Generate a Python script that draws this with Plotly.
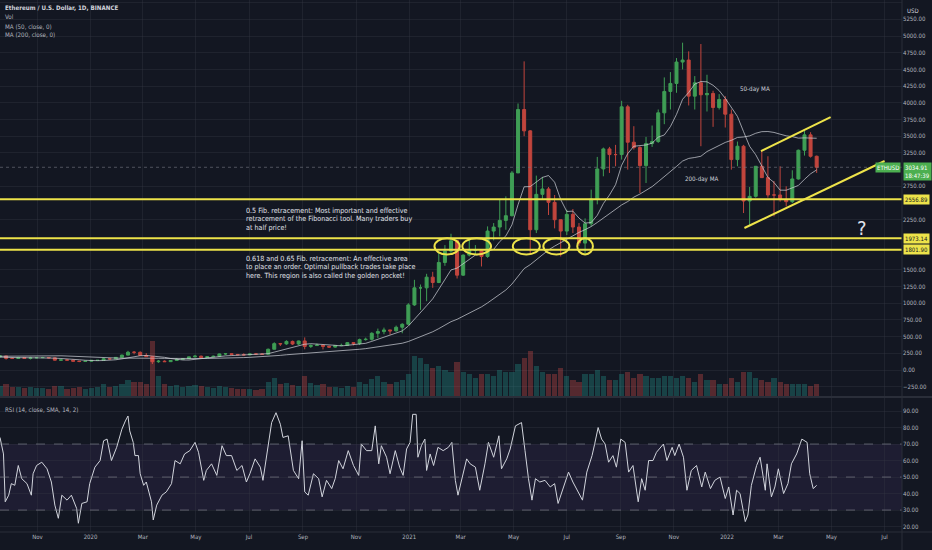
import plotly.graph_objects as go
import pandas as pd

# ============================================
# DATA  (weekly candles)
# ============================================
first_week = "2019-09-19"

opens = [
    197, 211, 174, 172, 186, 173, 183, 185, 187, 182, 147, 151, 148, 132, 128, 132,
    144, 145, 168, 167, 189, 223, 266, 265, 218, 200, 124, 132, 125, 143, 158, 170,
    197, 207, 187, 199, 205, 241, 244, 233, 228, 227, 240, 239, 236, 311, 395, 391,
    428, 389, 435, 353, 366, 372, 355, 343, 366, 368, 410, 395, 455, 460, 550, 575,
    600, 586, 640, 685,
    975, 1230, 1230, 1390, 1310, 1610, 1780, 1935, 1420, 1720, 1790, 1790, 1700, 2080,
    2140, 2240, 2310, 2950, 3900, 3580, 2100, 2630, 2710, 2510, 2250, 2080, 2330, 2140,
    1900, 2190, 2560, 3010, 3310, 3225, 3225, 3940, 3410, 3330, 3060, 3390, 3420, 3850,
    4170, 4290, 4610, 4640, 4100, 4300, 4120, 4140, 3930, 4050,
    3830, 3150, 3350, 2530, 2600, 3050, 2880, 2620, 2620, 2550, 2520, 2860, 3290, 3520,
    3200,
]
highs = [
    223, 212, 182, 197, 190, 197, 192, 197, 190, 184, 157, 153, 152, 135, 135, 145,
    148, 180, 172, 189, 230, 287, 285, 278, 252, 202, 150, 145, 150, 175, 175, 198,
    227, 216, 208, 216, 246, 253, 250, 240, 250, 245, 248, 243, 321, 415, 405, 445,
    440, 440, 488, 385, 395, 380, 363, 370, 395, 418, 415, 470, 485, 565, 620, 635,
    602, 665, 700, 1000,
    1350, 1280, 1440, 1470, 1760, 1870, 2040, 1940, 1730, 1950, 1870, 1810, 2150, 2200,
    2550, 2600, 2980, 3990, 4620, 3590, 2910, 2890, 2740, 2620, 2250, 2400, 2410, 2200,
    2270, 2700, 3190, 3330, 3340, 3370, 4030, 3970, 3650, 3350, 3490, 3660, 3900, 4380,
    4460, 4670, 4900, 4770, 4400, 4880, 4420, 4180, 4130, 4100,
    3900, 3420, 3370, 2740, 3050, 3280, 3200, 2830, 3050, 2750, 2990, 3300, 3580, 3560,
    3210,
]
lows = [
    193, 155, 166, 170, 171, 158, 176, 180, 178, 142, 138, 145, 131, 117, 123, 126,
    135, 142, 157, 165, 186, 219, 235, 214, 196, 90, 108, 122, 124, 140, 150, 168,
    189, 180, 183, 196, 197, 225, 220, 224, 219, 222, 236, 230, 233, 308, 360, 377,
    375, 375, 310, 330, 360, 308, 330, 335, 360, 362, 370, 375, 440, 440, 480, 535,
    530, 575, 550, 680,
    960, 900, 1030, 1230, 1300, 1560, 1740, 1370, 1410, 1700, 1730, 1550, 1680, 1940,
    2000, 2100, 2300, 2950, 3500, 1730, 2050, 2550, 2320, 2120, 1700, 2020, 2050, 1860,
    1720, 2150, 2480, 2900, 2950, 3050, 3150, 3000, 3300, 2650, 2800, 3340, 3400, 3680,
    3900, 4150, 4500, 3960, 3900, 3350, 3870, 3640, 3900, 3630,
    3000, 3050, 2350, 2160, 2580, 2880, 2580, 2300, 2520, 2450, 2500, 2850, 3210, 3180,
    2950,
]
closes = [
    211, 174, 172, 186, 173, 183, 185, 187, 182, 147, 151, 148, 132, 128, 132, 144,
    145, 168, 167, 189, 223, 266, 265, 218, 200, 124, 132, 125, 143, 158, 170, 197,
    207, 187, 199, 205, 241, 244, 233, 228, 227, 240, 239, 236, 311, 395, 391, 428,
    389, 435, 353, 366, 372, 355, 343, 366, 368, 410, 395, 455, 460, 550, 575, 600,
    586, 640, 685, 975,
    1230, 1230, 1390, 1310, 1610, 1780, 1935, 1420, 1720, 1790, 1790, 1700, 2080, 2140,
    2240, 2310, 2950, 3900, 3580, 2100, 2630, 2710, 2510, 2250, 2080, 2330, 2140, 1900,
    2190, 2560, 3010, 3310, 3225, 3225, 3940, 3410, 3330, 3060, 3390, 3420, 3850, 4170,
    4290, 4610, 4640, 4100, 4300, 4120, 4140, 3930, 4050, 3830,
    3150, 3350, 2530, 2600, 3050, 2880, 2620, 2620, 2550, 2520, 2860, 3290, 3520, 3200,
    3035,
]
volume = [
    100, 120, 90, 90, 80, 90, 80, 80, 70, 100, 100, 70, 80, 90, 70, 80,
    90, 120, 90, 100, 120, 160, 140, 140, 120, 550, 200, 120, 100,
    110, 90, 100, 110, 100, 90, 80, 100, 90, 80, 70, 70, 70, 60, 70,
    140, 180, 120, 130, 110, 100, 200, 130, 110, 120, 90, 90, 80, 100, 90,
    140, 120, 170, 200, 140, 120, 140, 160, 220,
    400, 380, 320, 280, 300, 260, 240, 340, 240, 220, 180, 220, 220, 200, 260, 240, 240,
    320, 380, 450, 300, 240, 220, 220, 280, 200, 160, 140, 220,
    220, 260, 200, 160, 160, 220, 240, 180, 220, 200, 180, 180, 200, 200,
    180, 200, 180, 140, 220, 160, 160, 120, 120,
    180, 140, 240, 240, 180, 160, 140, 180, 140, 120, 120, 120, 120, 100, 120,
]
# weekly closes before the visible window (feed the moving averages)
pre_closes = [134, 137, 136, 141, 165, 164, 172, 156, 162, 187, 245, 251, 267, 245,
              265, 294, 292, 288, 275, 226, 207, 222, 211, 195, 190, 172, 178, 197]

# RSI (14): day offset from first_week, value
rsi_day = [
    0, 4, 6, 10, 13, 17, 21, 25, 31, 36, 38, 42, 48, 54, 59, 63, 67, 71, 77, 82,
    88, 90, 94, 100, 103, 109, 115, 119, 123, 128, 134, 140, 144, 147, 149, 153, 155, 159, 161, 165,
    168, 172, 174, 176, 180, 186, 191, 197, 201, 207, 212, 218, 224, 228, 234, 237, 243, 249, 255, 260,
    266, 272, 278, 283, 287, 293, 299, 302, 308, 312, 317, 322, 325, 331, 337, 343, 347, 350, 354, 360,
    366, 370, 375, 381, 385, 389, 394, 400, 406, 412, 415, 421, 427, 431, 435, 438, 444, 448, 454, 459,
    463, 467, 471, 474, 478, 480, 484, 488, 490, 494, 498, 503, 509, 515, 519, 523, 526, 530, 536, 540,
    546, 551, 557, 561, 567, 573, 576, 582, 586, 592, 595, 599, 603, 607, 611, 615, 620, 626, 632, 637,
    641, 647, 653, 658, 664, 669, 674, 680, 683, 687, 691, 695, 699, 704, 708, 713, 718, 722, 727, 733,
    737, 741, 745, 750, 754, 762, 766, 772, 775, 780, 785, 789, 794, 800, 806, 810, 816, 821, 827, 833,
    837, 842, 846, 850, 856, 859, 863, 869, 873, 879, 881, 886, 890, 894, 900, 905, 909, 915, 921, 927,
    930, 934, 938,
]
rsi_val = [
    74, 64, 35, 39, 46, 45, 57, 49, 46, 39, 52, 57, 59, 55, 47, 33, 25, 39, 36, 39,
    31, 22, 34, 35, 46, 56, 60, 72, 73, 60, 68, 79, 84, 87, 78, 71, 63, 63, 52, 45,
    47, 39, 35, 24, 33, 39, 41, 46, 60, 58, 64, 66, 71, 65, 48, 54, 58, 51, 69, 63,
    63, 54, 57, 47, 52, 61, 56, 48, 70, 83, 89, 82, 74, 75, 54, 49, 72, 41, 39, 52,
    49, 38, 48, 43, 49, 60, 55, 66, 57, 51, 70, 66, 66, 81, 58, 69, 62, 52, 66, 56,
    51, 67, 71, 88, 88, 62, 69, 73, 54, 64, 57, 68, 66, 68, 71, 48, 39, 48, 61, 58,
    56, 42, 58, 71, 62, 75, 55, 61, 67, 81, 82, 83, 66, 49, 36, 49, 47, 48, 44, 46,
    34, 44, 53, 47, 41, 36, 53, 63, 70, 80, 73, 70, 59, 63, 56, 73, 71, 53, 57, 35,
    49, 42, 60, 60, 65, 70, 60, 68, 63, 70, 62, 42, 54, 57, 44, 53, 43, 48, 50, 37,
    44, 27, 42, 40, 23, 27, 45, 57, 62, 42, 58, 38, 44, 55, 40, 46, 58, 64, 73, 71,
    52, 43, 45,
]

fib_levels = [2556.89, 1973.14, 1801.90]
last_price = 3034.91
# rising channel drawn on the chart (date, price)
channel_upper = [("2022-02-09", 3278), ("2022-04-30", 3787)]
channel_lower = [("2022-01-21", 2126), ("2022-07-01", 3129)]
# highlighted touches of the golden pocket
touch_spans = [("2021-01-30", "2021-02-28"), ("2021-03-03", "2021-04-05"),
               ("2021-04-30", "2021-05-31"), ("2021-06-04", "2021-07-04"),
               ("2021-07-13", "2021-07-31")]
touch_low, touch_high = 1731, 1971

month_ticks = ["2019-11-01", "2020-01-01", "2020-03-01", "2020-05-01", "2020-07-01",
               "2020-09-01", "2020-11-01", "2021-01-01", "2021-03-01", "2021-05-01",
               "2021-07-01", "2021-09-01", "2021-11-01", "2022-01-01", "2022-03-01",
               "2022-05-01", "2022-07-01"]
month_labels = ["Nov", "2020", "Mar", "May", "Jul", "Sep", "Nov", "2021", "Mar",
                "May", "Jul", "Sep", "Nov", "2022", "Mar", "May", "Jul"]
# price ticks; the ones under the coloured price tags are not shown
price_ticks = [-250, 0, 250, 500, 750, 1000, 1250, 1500, 2250, 2750, 3250, 3500,
               3750, 4000, 4250, 4500, 4750, 5000, 5250, 5500]
rsi_ticks = [20, 30, 40, 50, 60, 70, 80, 90]

# ============================================
# DERIVED
# ============================================
dates = pd.date_range(first_week, periods=len(closes), freq="7D")
all_closes = pd.Series(pre_closes + closes, dtype=float)
n_pre = len(pre_closes)
ma50 = all_closes.rolling(7).mean().iloc[n_pre:].values    # 7 weeks ~ 50 days
ma200 = all_closes.rolling(29).mean().iloc[n_pre:].values  # 29 weeks ~ 200 days
rsi_dates = pd.Timestamp(first_week) + pd.to_timedelta(rsi_day, unit="D")

BG = "#131722"
GRID = "rgba(54,58,69,0.35)"
UP = "#3f9e55"
DOWN = "#c1453d"
YEL = "#ede34a"
TXT = "#b2b5be"
FONT = "DejaVu Sans Condensed, Liberation Sans Narrow, Arial Narrow, sans-serif"

vol_colors = ["rgba(38,166,154,0.3)" if c >= o else "rgba(239,83,80,0.3)"
              for o, c in zip(opens, closes)]

# pixel helpers for the free text (plot area 902 x 532)
W, H = 902, 532
def px(x):
    return x / W
def py(y):
    return 1 - y / H

# ============================================
# FIGURE
# ============================================
fig = go.Figure()

fig.add_trace(go.Bar(
    x=dates, y=volume, xaxis="x", yaxis="y3",
    width=6 * 86400000, marker=dict(color=vol_colors, line=dict(width=0)),
    hoverinfo="skip"
))
fig.add_trace(go.Candlestick(
    x=dates, open=opens, high=highs, low=lows, close=closes,
    xaxis="x", yaxis="y", whiskerwidth=0,
    increasing=dict(line=dict(color=UP, width=1), fillcolor=UP),
    decreasing=dict(line=dict(color=DOWN, width=1), fillcolor=DOWN),
))
for ma in (ma50, ma200):
    fig.add_trace(go.Scatter(
        x=dates, y=ma, mode="lines", xaxis="x", yaxis="y",
        line=dict(color="rgba(209,212,220,0.7)", width=1), hoverinfo="skip"
    ))
fig.add_trace(go.Scatter(
    x=rsi_dates, y=rsi_val, mode="lines", xaxis="x2", yaxis="y2",
    line=dict(color="#d1d4dc", width=1), hoverinfo="skip"
))

shapes = []
# RSI band and guides
shapes.append(dict(type="rect", xref="paper", yref="y2", x0=0, x1=1, y0=30, y1=70,
                   fillcolor="rgba(126,87,194,0.10)", line=dict(width=0), layer="below"))
for lvl in (70, 50, 30):
    shapes.append(dict(type="line", xref="paper", yref="y2", x0=0, x1=1, y0=lvl, y1=lvl,
                       line=dict(color="rgba(120,123,134,0.7)", width=1, dash="dash")))
# last price line
shapes.append(dict(type="line", xref="paper", yref="y", x0=0, x1=1,
                   y0=last_price, y1=last_price,
                   line=dict(color="rgba(120,123,134,0.6)", width=1, dash="dot")))
# fib levels
for lvl in fib_levels:
    shapes.append(dict(type="line", xref="paper", yref="y", x0=0, x1=1, y0=lvl, y1=lvl,
                       line=dict(color=YEL, width=2)))
# channel
for (d0, p0), (d1, p1) in (channel_upper, channel_lower):
    shapes.append(dict(type="line", xref="x", yref="y", x0=d0, x1=d1, y0=p0, y1=p1,
                       line=dict(color=YEL, width=2)))
# touches
for d0, d1 in touch_spans:
    shapes.append(dict(type="circle", xref="x", yref="y", x0=d0, x1=d1,
                       y0=touch_low, y1=touch_high, line=dict(color=YEL, width=2)))
# pane borders
shapes.append(dict(type="line", xref="paper", yref="paper", x0=0, x1=932 / W,
                   y0=py(397), y1=py(397), line=dict(color="#2a2e39", width=2)))
shapes.append(dict(type="line", xref="paper", yref="paper", x0=0, x1=932 / W,
                   y0=0, y1=0, line=dict(color="#2a2e39", width=1)))
shapes.append(dict(type="line", xref="paper", yref="paper", x0=1, x1=1,
                   y0=-18 / H, y1=1, line=dict(color="#2a2e39", width=1)))

ann = []
def text(x, y, s, size=6.2, color=TXT, anchor="left"):
    ann.append(dict(x=px(x), y=py(y), xref="paper", yref="paper", text=s,
                    showarrow=False, xanchor=anchor, yanchor="middle",
                    font=dict(size=size, color=color, family=FONT)))

text(3, 7, "<b>Ethereum / U.S. Dollar, 1D, BINANCE</b>", 6.2, "#d1d4dc")
text(3, 17, "Vol")
text(3, 26, "MA (50, close, 0)")
text(3, 34, "MA (200, close, 0)")
text(3, 409, "RSI (14, close, SMA, 14, 2)")

fib_top = ["0.5 Fib. retracement: Most important and effective",
           "retracement of the Fibonacci tool. Many traders buy",
           "at half price!"]
fib_bottom = ["0.618 and 0.65 Fib. retracement: An effective area",
              "to place an order. Optimal pullback trades take place",
              "here. This region is also called the golden pocket!"]
for i, line in enumerate(fib_top):
    text(244, 210 + 8.7 * i, line, 7.1, "#e0e3eb")
for i, line in enumerate(fib_bottom):
    text(244, 258 + 8.7 * i, line, 7.1, "#e0e3eb")

text(755, 89, "50-day MA", 6.2, "#d1d4dc", "center")
text(701, 179, "200-day MA", 6.2, "#d1d4dc", "center")
text(862, 228, "?", 20, "#e0e3eb", "center")
text(913, 11, "USD", 6, "#d1d4dc", "center")

# price labels on the axis
for lvl in fib_levels:
    ann.append(dict(x=1, y=lvl, xref="paper", yref="y", text=f"{lvl:.2f}",
                    showarrow=False, xanchor="left", yanchor="middle", xshift=1,
                    bgcolor=YEL, borderpad=1,
                    font=dict(size=6, color="#131722", family=FONT)))
ann.append(dict(x=1, y=last_price, xref="paper", yref="y",
                text=f"{last_price:.2f}<br>18:47:39", showarrow=False,
                xanchor="left", yanchor="top", xshift=1, yshift=5, align="left",
                bgcolor="#4caf50", borderpad=1,
                font=dict(size=6, color="white", family=FONT)))
ann.append(dict(x=1, y=last_price, xref="paper", yref="y", text="ETHUSD",
                showarrow=False, xanchor="right", yanchor="middle", xshift=-1,
                bgcolor="#4caf50", borderpad=1,
                font=dict(size=6, color="white", family=FONT)))

x_range = ["2019-09-19", "2022-07-21"]
axis_font = dict(size=6, color=TXT, family=FONT)

fig.update_layout(
    width=932, height=550,
    paper_bgcolor=BG, plot_bgcolor=BG,
    margin=dict(l=0, r=30, t=0, b=18),
    showlegend=False,
    bargap=0,
    shapes=shapes, annotations=ann,
    xaxis=dict(domain=[0, 1], anchor="y", range=x_range, tickvals=month_ticks,
               showticklabels=False, showgrid=True, gridcolor=GRID, zeroline=False,
               rangeslider=dict(visible=False)),
    yaxis=dict(domain=[py(396), 1], side="right", range=[-389, 5539],
               tickvals=price_ticks, tickformat=".2f", tickfont=axis_font,
               showgrid=True, gridcolor=GRID, zeroline=False, ticks=""),
    yaxis3=dict(overlaying="y", range=[0, 3960], visible=False),
    xaxis2=dict(domain=[0, 1], anchor="y2", range=x_range, tickvals=month_ticks,
                ticktext=month_labels, tickfont=axis_font, showgrid=True,
                gridcolor=GRID, zeroline=False, ticks=""),
    yaxis2=dict(domain=[0, py(398)], side="right", range=[16.7, 97.9],
                tickvals=rsi_ticks, tickformat=".2f", tickfont=axis_font,
                showgrid=True, gridcolor=GRID, zeroline=False, ticks=""),
)

fig.write_html("out.html", config={"displayModeBar": False},
               post_script="document.body.style.margin='0px';")
